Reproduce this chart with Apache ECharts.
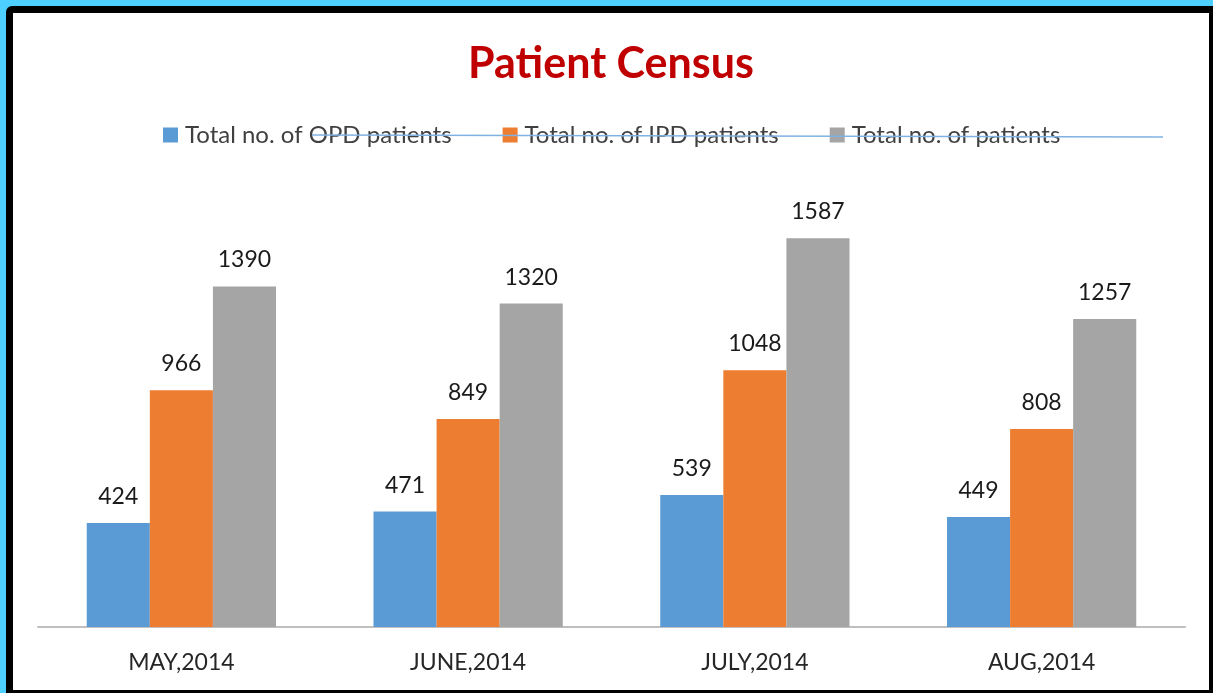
<!DOCTYPE html>
<html>
<head>
<meta charset="utf-8">
<script src="https://cdn.jsdelivr.net/npm/echarts@6/dist/echarts.min.js"></script>
<style>
  html, body { margin: 0; padding: 0; }
  body { background: #4dd0ff; width: 1213px; height: 693px; overflow: hidden; position: relative; }
  .frame {
    position: absolute; left: 6px; top: 6px;
    width: 1196px; height: 677px;
    border-style: solid; border-color: #000;
    border-width: 7px 4px 3px 7px;
    border-top-left-radius: 6px;
    background: #fff;
  }
  #chart { width: 1196px; height: 677px; }
</style>
</head>
<body>
<div class="frame"><div id="chart"></div></div>
<script>
var months = ['MAY,2014', 'JUNE,2014', 'JULY,2014', 'AUG,2014']
var opdPatients = [424, 471, 539, 449]
var ipdPatients = [966, 849, 1048, 808]
var totalPatients = [1390, 1320, 1587, 1257]

var chart = echarts.init(document.getElementById('chart'), null, { renderer: 'canvas' })
var font = 'Lato, "Open Sans", sans-serif'

var labelStyle = {
  show: true,
  position: 'top',
  distance: 15,
  fontSize: 23,
  color: '#1a1a1a',
  fontFamily: font
}

var option = {
  animation: false,
  title: {
    text: 'Patient Census',
    left: 'center',
    top: 25,
    textStyle: { color: '#c00000', fontSize: 43, fontWeight: 'bold', fontFamily: font }
  },
  legend: {
    left: 145,
    top: 105,
    itemWidth: 15,
    itemHeight: 15,
    itemGap: 51,
    icon: 'rect',
    textStyle: { fontSize: 24, color: '#404040', fontFamily: font, padding: [0, 0, 0, 2] },
    data: ['Total no. of OPD patients', 'Total no. of IPD patients', 'Total no. of patients']
  },
  graphic: [{
    type: 'line',
    shape: { x1: 299, y1: 122, x2: 1150, y2: 124 },
    style: { stroke: '#7fb2e2', lineWidth: 1.5 },
    z: 100
  }],
  grid: { left: 25, right: 24, top: 173, bottom: 63 },
  xAxis: {
    type: 'category',
    data: months,
    axisLine: { lineStyle: { color: '#bfbfbf', width: 2 } },
    axisTick: { show: false },
    axisLabel: { fontSize: 23, color: '#262626', margin: 24, fontFamily: font }
  },
  yAxis: {
    type: 'value',
    min: 0,
    max: 1800,
    show: false,
    splitLine: { show: false }
  },
  series: [{
    name: 'Total no. of OPD patients',
    type: 'bar',
    barGap: '0%',
    barCategoryGap: '34%',
    itemStyle: { color: '#5b9bd5' },
    label: labelStyle,
    data: opdPatients
  }, {
    name: 'Total no. of IPD patients',
    type: 'bar',
    itemStyle: { color: '#ed7d31' },
    label: labelStyle,
    data: ipdPatients
  }, {
    name: 'Total no. of patients',
    type: 'bar',
    itemStyle: { color: '#a5a5a5' },
    label: labelStyle,
    data: totalPatients
  }]
}

chart.setOption(option)
</script>
</body>
</html>
